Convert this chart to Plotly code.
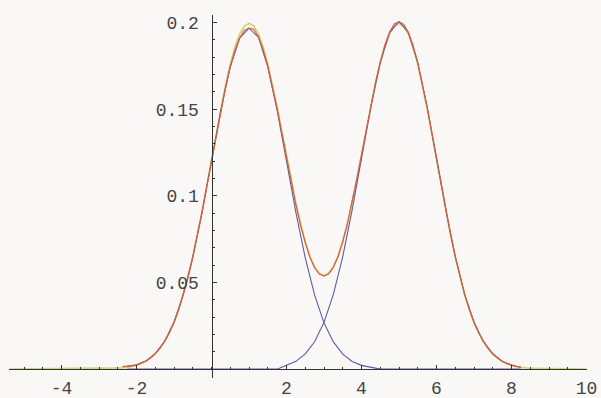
import numpy as np
import plotly.graph_objects as go

# ---- data ----
# fine grid for the estimated mixture (red)
x_red = [round(v, 3) for v in np.arange(-2.375, 8.2501, 0.125)]
red_y = [0.0015, 0.0016, 0.0019, 0.0025, 0.0034, 0.0047, 0.0066, 0.0090, 0.0121, 0.0161,
         0.0210, 0.0271, 0.0344, 0.0430, 0.0530, 0.0645, 0.0771, 0.0908, 0.1055, 0.1204,
         0.1352, 0.1496, 0.1628, 0.1744, 0.1839, 0.1911, 0.1955, 0.1968, 0.1962, 0.1918,
         0.1845, 0.1749, 0.1634, 0.1503, 0.1364, 0.1222, 0.1084, 0.0950, 0.0832, 0.0730,
         0.0646, 0.0585, 0.0549, 0.0537,
         0.0551, 0.0589, 0.0651, 0.0737, 0.0842, 0.0962, 0.1098, 0.1238, 0.1382, 0.1524,
         0.1657, 0.1773, 0.1872, 0.1946, 0.1992, 0.2006,
         0.1990, 0.1943, 0.1868, 0.1769, 0.1649, 0.1513, 0.1366, 0.1215, 0.1065, 0.0917,
         0.0778, 0.0650, 0.0534, 0.0432, 0.0345, 0.0271, 0.0210, 0.0160, 0.0120, 0.0089,
         0.0065, 0.0046, 0.0033, 0.0023, 0.0016, 0.0011]

# coarser grid for the two components (blue)
x_comp = [round(v, 2) for v in np.arange(-2.25, 8.251, 0.25)]
blue1_y = [0.0016, 0.0025, 0.0047, 0.0090, 0.0161, 0.0271, 0.0430, 0.0645, 0.0908,
           0.1204, 0.1496, 0.1744, 0.1911, 0.1968, 0.1916, 0.1745, 0.1493, 0.1200,
           0.0905, 0.0642, 0.0427, 0.0267, 0.0157, 0.0087, 0.0044, 0.0022, 0.0009,
           0.0, 0.0, 0.0, 0.0, 0.0, 0.0, 0.0, 0.0, 0.0,
           0.0, 0.0, 0.0, 0.0, 0.0, 0.0, 0.0]
blue2_y = [0.0, 0.0, 0.0, 0.0, 0.0, 0.0, 0.0, 0.0, 0.0,
           0.0, 0.0, 0.0, 0.0, 0.0, 0.0, 0.0, 0.0, 0.0022,
           0.0045, 0.0088, 0.0158, 0.0270, 0.0432, 0.0650, 0.0918, 0.1216, 0.1515,
           0.1769, 0.1944, 0.2006, 0.1943, 0.1769, 0.1513, 0.1215, 0.0917, 0.0650,
           0.0432, 0.0271, 0.0160, 0.0089, 0.0046, 0.0023, 0.0011]

# true mixture density (yellow-green), over the whole range
x_true = [-5.4] + [round(v, 3) for v in np.arange(-2.5, 8.5001, 0.125)] + [10.0]
yellow_y = [0.0,
            0.0004, 0.0007, 0.0010, 0.0015, 0.0022, 0.0032, 0.0045, 0.0064, 0.0088, 0.0119,
            0.0159, 0.0209, 0.0270, 0.0344, 0.0431, 0.0532, 0.0648, 0.0775, 0.0913, 0.1061,
            0.1210,
            0.1360, 0.1506, 0.1641, 0.1760, 0.1859, 0.1933, 0.1979, 0.1996, 0.1981, 0.1935,
            0.1862, 0.1764, 0.1648, 0.1516, 0.1375, 0.1232, 0.1093, 0.0958, 0.0839, 0.0736,
            0.0651, 0.0590, 0.0553, 0.0540,
            0.0553, 0.0590, 0.0651, 0.0736, 0.0839, 0.0958, 0.1093, 0.1232, 0.1375, 0.1516,
            0.1648, 0.1764, 0.1862, 0.1935, 0.1981, 0.1996,
            0.1979, 0.1933, 0.1859, 0.1760, 0.1641, 0.1506, 0.1360, 0.1210, 0.1061, 0.0913,
            0.0775, 0.0648, 0.0532, 0.0431, 0.0344, 0.0270, 0.0209, 0.0159, 0.0119, 0.0088,
            0.0064, 0.0045, 0.0032, 0.0022, 0.0015, 0.0010, 0.0007, 0.0004,
            0.0]

assert len(x_red) == len(red_y)
assert len(x_comp) == len(blue1_y) == len(blue2_y)
assert len(x_true) == len(yellow_y)

x_tickvals = [-4, -2, 2, 4, 6, 8, 10]
x_ticktext = ["-4", "-2", "2", "4", "6", "8", "10"]
y_tickvals = [0.05, 0.1, 0.15, 0.2]
y_ticktext = ["0.05", "0.1", "0.15", "0.2"]

x_minor = [round(v, 2) for v in np.arange(-5.0, 10.01, 0.5)]
y_minor = [round(v, 3) for v in np.arange(0.01, 0.201, 0.01)]

# ---- figure ----
RED = "#E25A38"
YEL = "#C6D87E"
BLU = "#5E5AA6"
BG = "#F9F8F6"
AX = "#333333"
FONT = dict(family="Liberation Mono, Courier New, monospace", size=18, color="#454545")

fig = go.Figure()
fig.add_trace(go.Scatter(x=x_true, y=yellow_y, mode="lines",
                         line=dict(color=YEL, width=1.7), hoverinfo="skip"))
fig.add_trace(go.Scatter(x=x_comp, y=blue1_y, mode="lines",
                         line=dict(color=BLU, width=1.1), hoverinfo="skip"))
fig.add_trace(go.Scatter(x=x_comp, y=blue2_y, mode="lines",
                         line=dict(color=BLU, width=1.1), hoverinfo="skip"))
fig.add_trace(go.Scatter(x=x_red, y=red_y, mode="lines",
                         line=dict(color=RED, width=1.2), hoverinfo="skip"))

W, H = 601, 398
x0_px = 211.5
y0_px = 369.1

fig.update_layout(
    width=W, height=H,
    margin=dict(l=0, r=0, t=0, b=0, autoexpand=False),
    paper_bgcolor=BG, plot_bgcolor=BG,
    showlegend=False,
    xaxis=dict(
        range=[-5.4, 10.0],
        domain=[9.0 / W, 586.5 / W],
        anchor="free", position=(H - y0_px) / H,
        automargin=False,
        showgrid=False, zeroline=False,
        showline=True, linecolor=AX, linewidth=1,
        tickmode="array", tickvals=x_tickvals, ticktext=x_ticktext,
        ticks="inside", ticklen=4, tickwidth=1, tickcolor=AX,
        minor=dict(tickmode="array", tickvals=x_minor, ticks="inside",
                   ticklen=2, tickwidth=1, tickcolor=AX, showgrid=False),
        tickfont=FONT, ticklabelstandoff=2,
        fixedrange=True,
    ),
    yaxis=dict(
        range=[-0.0051, 0.2044],
        domain=[(H - 378) / H, (H - 15) / H],
        anchor="free", position=x0_px / W,
        automargin=False,
        showgrid=False, zeroline=False,
        showline=True, linecolor=AX, linewidth=1,
        tickmode="array", tickvals=y_tickvals, ticktext=y_ticktext,
        ticks="inside", ticklen=4, tickwidth=1, tickcolor=AX,
        minor=dict(tickmode="array", tickvals=y_minor, ticks="inside",
                   ticklen=2, tickwidth=1, tickcolor=AX, showgrid=False),
        tickfont=FONT, ticklabelstandoff=9,
        fixedrange=True,
    ),
)

fig.write_html(
    "out.html",
    config={"displayModeBar": False, "staticPlot": True},
    post_script="document.body.style.margin='0';document.body.style.overflow='hidden';"
                "document.documentElement.style.overflow='hidden';",
)
